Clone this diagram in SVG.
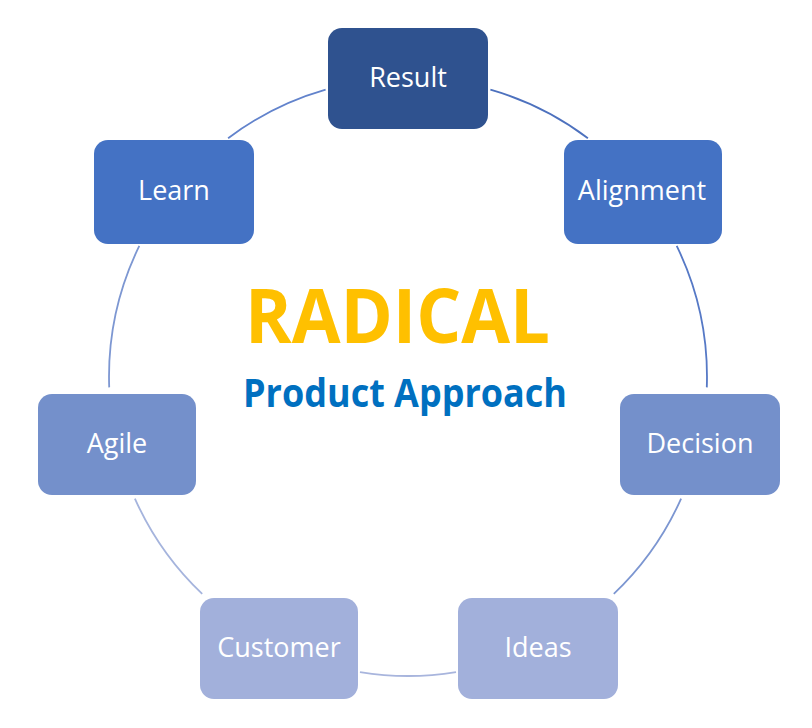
<svg xmlns="http://www.w3.org/2000/svg" width="812" height="728" viewBox="0 0 812 728">
<style>
.node text{font-family:"Open Sans","Liberation Sans",sans-serif;font-size:27px;fill:#fff;text-anchor:middle}
.arc{fill:none;stroke-width:1.8}
</style>
<rect width="812" height="728" fill="#fff"/>
<g id="connectors">
<path class="arc" stroke="#4D71BE" d="M490.4,89.6 A299,299 0 0 1 587.9,138.2"/>
<path class="arc" stroke="#5679C6" d="M676.7,245.9 A299,299 0 0 1 706.8,387.4"/>
<path class="arc" stroke="#7C96D1" d="M681.1,498.6 A299,299 0 0 1 613.8,593.9"/>
<path class="arc" stroke="#A8B5DD" d="M456,672.1 A299,299 0 0 1 360,672.1"/>
<path class="arc" stroke="#A5B4DD" d="M202.2,593.9 A299,299 0 0 1 134.9,498.6"/>
<path class="arc" stroke="#7D97D2" d="M109.2,387.4 A299,299 0 0 1 139.3,245.9"/>
<path class="arc" stroke="#6283CC" d="M228.1,138.2 A299,299 0 0 1 325.6,89.6"/>
</g>
<g id="result" class="node"><rect x="328" y="28" width="160" height="101" rx="14" fill="#2F528F"/><text x="408" y="87">Result</text></g>
<g id="alignment" class="node"><rect x="564" y="140" width="158" height="104" rx="14" fill="#4472C4"/><text x="642" y="200">Alignment</text></g>
<g id="decision" class="node"><rect x="620" y="394" width="160" height="101" rx="14" fill="#7490CB"/><text x="700" y="453">Decision</text></g>
<g id="ideas" class="node"><rect x="458" y="598" width="160" height="101" rx="14" fill="#A2B0DB"/><text x="538" y="657">Ideas</text></g>
<g id="customer" class="node"><rect x="200" y="598" width="158" height="101" rx="14" fill="#A2B0DB"/><text x="279" y="657">Customer</text></g>
<g id="agile" class="node"><rect x="38" y="394" width="158" height="101" rx="14" fill="#7490CB"/><text x="117" y="453">Agile</text></g>
<g id="learn" class="node"><rect x="94" y="140" width="160" height="104" rx="14" fill="#4472C4"/><text x="174" y="200">Learn</text></g>
<g id="title">
<text x="397.5" y="343" font-family="'Open Sans','Liberation Sans',sans-serif" font-weight="bold" font-size="76" fill="#FFC000" text-anchor="middle" textLength="305" lengthAdjust="spacingAndGlyphs">RADICAL</text>
<text x="405" y="407" font-family="'Open Sans','Liberation Sans',sans-serif" font-weight="bold" font-size="39" fill="#0070C0" text-anchor="middle" textLength="324" lengthAdjust="spacingAndGlyphs">Product Approach</text>
</g>
</svg>
